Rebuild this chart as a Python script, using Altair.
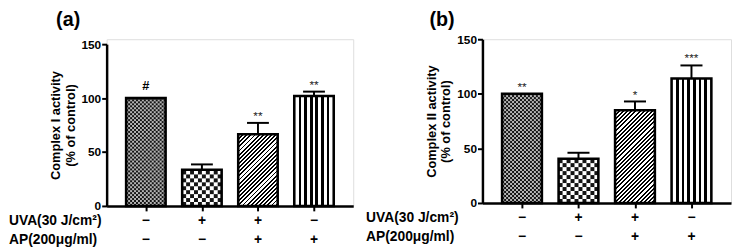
import altair as alt
import pandas as pd

# ---------------- data ----------------
positions = [1, 2, 3, 4]
uva_signs = ["\u2212", "+", "+", "\u2212"]
ap_signs = ["\u2212", "\u2212", "+", "+"]
row_labels = ["UVA(30 J/cm\u00b2)", "AP(200\u03bcg/ml)"]
y_ticks = [0, 50, 100, 150]

a_values = [100, 33.5, 66.5, 102]
a_errors = [0, 5, 10.5, 4]
a_marks = ["#", "", "**", "**"]
a_title = "(a)"
a_ytitle = ["Complex I activity", "(% of control)"]

b_values = [100, 40.5, 85, 114]
b_errors = [0, 5.5, 8, 12]
b_marks = ["**", "", "*", "***"]
b_title = "(b)"
b_ytitle = ["Complex II activity", "(% of control)"]

FONT = "Liberation Sans"
HALF = 0.352          # half bar width in x units
CAP = 0.195           # half cap width in x units
XDOM = [0.3, 4.7]


def stripe_gradient():
    stops = [{"offset": 0, "color": "white"}]
    for i in range(1, 7):
        c = i / 7
        stops += [
            {"offset": c - 0.034, "color": "white"},
            {"offset": c - 0.034, "color": "black"},
            {"offset": c + 0.034, "color": "black"},
            {"offset": c + 0.034, "color": "white"},
        ]
    stops.append({"offset": 1, "color": "white"})
    return {"gradient": "linear", "x1": 0, "y1": 0, "x2": 1, "y2": 0, "stops": stops}


def diag_gradient(W, H, period=4.2, dark=0.45):
    total = (W * W + H * H) / W
    stops = []
    k = 0
    while k * period / total < 1:
        s = k * period / total
        e = min((k * period + period * dark) / total, 1)
        n = min((k + 1) * period / total, 1)
        stops += [
            {"offset": s, "color": "black"},
            {"offset": e, "color": "black"},
            {"offset": e, "color": "white"},
            {"offset": n, "color": "white"},
        ]
        k += 1
    return {"gradient": "linear", "x1": 0, "y1": 0, "x2": 1, "y2": H / W, "stops": stops}


def checker_cells(values):
    rows = []
    specs = [(0, 20, 1.83), (1, 10, 3.65)]  # (bar index, columns, row height in units)
    for bi, ncol, rh in specs:
        v = values[bi]
        p = positions[bi]
        cw = 2 * HALF / ncol
        nrow = int(v / rh) + 1
        for i in range(ncol):
            for j in range(nrow):
                if (i + j) % 2 == 0:
                    y0 = j * rh
                    if y0 >= v:
                        continue
                    rows.append({
                        "x": p - HALF + i * cw,
                        "x2": p - HALF + (i + 1) * cw,
                        "y": y0,
                        "y2": min((j + 1) * rh, v),
                        "bar": bi,
                    })
    return pd.DataFrame(rows)


def make_panel(values, errors, marks, title, ytitle, width, height, yrange,
               px_per_unit, label_x, title_x):
    df = pd.DataFrame({
        "pos": positions,
        "value": values,
        "err": errors,
        "mark": marks,
        "uva": uva_signs,
        "ap": ap_signs,
    })
    df["top"] = df["value"] + df["err"]
    df["lo"] = df["pos"] - HALF
    df["hi"] = df["pos"] + HALF
    df["clo"] = df["pos"] - CAP
    df["chi"] = df["pos"] + CAP

    xscale = alt.Scale(domain=XDOM, nice=False, zero=False)
    yscale = alt.Scale(domain=[0, 150], range=yrange, nice=False, zero=True)
    xaxis = alt.Axis(values=positions, labels=False, title=None, tickSize=5,
                     tickWidth=2, tickColor="black", domainColor="black",
                     domainWidth=2.5, grid=False)
    yaxis = alt.Axis(values=y_ticks, title=ytitle, titleFont=FONT,
                     titleFontSize=13, titleFontWeight="bold", titleColor="black",
                     titleLineHeight=15, titlePadding=4,
                     labelFont=FONT, labelFontSize=12, labelFontWeight="bold",
                     labelColor="black", labelPadding=1, tickSize=5, tickWidth=2,
                     tickColor="black", domainColor="black", domainWidth=2.5,
                     grid=False)

    def X(f):
        return alt.X(f, type="quantitative", scale=xscale, axis=xaxis)

    def Y(f):
        return alt.Y(f, type="quantitative", scale=yscale, axis=yaxis)

    base = alt.Chart(df)

    bg1 = base.mark_bar(fill="#b4b4b4", strokeWidth=0).encode(
        x=X("lo"), x2="hi", y=Y("value"), y2=alt.datum(0)
    ).transform_filter("datum.pos == 1")

    bg2 = base.mark_bar(fill="white", strokeWidth=0).encode(
        x=X("lo"), x2="hi", y=Y("value"), y2=alt.datum(0)
    ).transform_filter("datum.pos == 2")

    cells = alt.Chart(checker_cells(values)).mark_rect(fill="#151515", strokeWidth=0).encode(
        x=X("x"), x2="x2", y=Y("y"), y2="y2"
    )

    W = 2 * HALF * width / (XDOM[1] - XDOM[0])
    H3 = values[2] * px_per_unit
    bar3 = base.mark_bar(fill=diag_gradient(W, H3), strokeWidth=0).encode(
        x=X("lo"), x2="hi", y=Y("value"), y2=alt.datum(0)
    ).transform_filter("datum.pos == 3")

    bar4 = base.mark_bar(fill=stripe_gradient(), strokeWidth=0).encode(
        x=X("lo"), x2="hi", y=Y("value"), y2=alt.datum(0)
    ).transform_filter("datum.pos == 4")

    outline = base.mark_bar(fillOpacity=0, stroke="black", strokeWidth=2.6).encode(
        x=X("lo"), x2="hi", y=Y("value"), y2=alt.datum(0)
    )

    stems = base.mark_rule(color="black", strokeWidth=2).encode(
        x=X("pos"), y=Y("value"), y2="top"
    ).transform_filter("datum.err > 0")

    caps = base.mark_rule(color="black", strokeWidth=2).encode(
        x=X("clo"), x2="chi", y=Y("top")
    ).transform_filter("datum.err > 0")

    hashes = base.mark_text(font=FONT, fontSize=13, fontWeight="bold", color="black",
                            baseline="middle", dy=-12).encode(
        x=X("pos"), y=Y("top"), text="mark:N"
    ).transform_filter("datum.mark == '#'")

    stars = base.mark_text(font=FONT, fontSize=12, color="#222222",
                           baseline="middle", dy=-7).encode(
        x=X("pos"), y=Y("top"), text="mark:N"
    ).transform_filter("datum.mark != '#'")

    uva = base.mark_text(font=FONT, fontSize=14, fontWeight="bold", color="black",
                         baseline="middle").encode(
        x=X("pos"), y=alt.value(height + 15), text="uva:N"
    )
    ap = base.mark_text(font=FONT, fontSize=14, fontWeight="bold", color="black",
                        baseline="middle").encode(
        x=X("pos"), y=alt.value(height + 35), text="ap:N"
    )

    lab1 = alt.Chart(pd.DataFrame({"t": [row_labels[0]]})).mark_text(
        font=FONT, fontSize=14, fontWeight="bold", color="black",
        align="left", baseline="middle").encode(
        x=alt.value(label_x), y=alt.value(height + 15), text="t:N")
    lab2 = alt.Chart(pd.DataFrame({"t": [row_labels[1]]})).mark_text(
        font=FONT, fontSize=14, fontWeight="bold", color="black",
        align="left", baseline="middle").encode(
        x=alt.value(label_x), y=alt.value(height + 35), text="t:N")

    ttl = alt.Chart(pd.DataFrame({"t": [title]})).mark_text(
        font=FONT, fontSize=20, fontWeight="bold", color="black",
        align="center", baseline="top").encode(
        x=alt.value(title_x), y=alt.value(-29), text="t:N")

    return alt.layer(bg1, bg2, cells, bar3, bar4, outline, stems, caps, hashes, stars,
                     uva, ap, lab1, lab2, ttl).properties(width=width, height=height)


panel_a = make_panel(a_values, a_errors, a_marks, a_title, a_ytitle,
                     width=250, height=169, yrange=[169, 5], px_per_unit=164 / 150,
                     label_x=-99, title_x=-39)
panel_b = make_panel(b_values, b_errors, b_marks, b_title, b_ytitle,
                     width=252, height=166, yrange=[166, 0], px_per_unit=166 / 150,
                     label_x=-118, title_x=-41)

chart = alt.hconcat(panel_a, panel_b, spacing=131, bounds="flush", padding=0).configure_view(
    stroke=None
).configure(font=FONT)

chart.save("out.html", embed_options={"renderer": "svg", "actions": False})
